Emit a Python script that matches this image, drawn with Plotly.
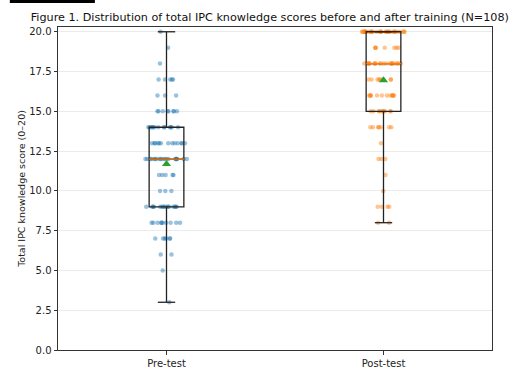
import numpy as np
import plotly.graph_objects as go

# ---- data (integer scores and how many participants got each) ----
groups = ["Pre-test", "Post-test"]
score_levels = [3, 4, 5, 6, 7, 8, 9, 10, 11, 12, 13, 14, 15, 16, 17, 18, 19, 20]
pre_counts = [1, 0, 1, 2, 6, 10, 15, 3, 5, 20, 13, 13, 8, 3, 5, 1, 1, 1]
post_counts = [0, 0, 0, 0, 0, 2, 4, 1, 1, 3, 1, 7, 10, 12, 8, 20, 7, 32]
y_ticks = [0.0, 2.5, 5.0, 7.5, 10.0, 12.5, 15.0, 17.5, 20.0]

pre_scores = np.repeat(score_levels, pre_counts).astype(float)
post_scores = np.repeat(score_levels, post_counts).astype(float)

colors = ["#1f77b4", "#ff7f0e"]
BOX_W = 0.16

fig = go.Figure()

for i, (name, vals) in enumerate(zip(groups, [pre_scores, post_scores])):
    pos = i + 1
    # jittered points
    fig.add_trace(go.Box(
        x=[pos] * len(vals), y=vals, name=name, boxpoints="all", jitter=1.0,
        pointpos=0, width=0.2, line=dict(color="rgba(0,0,0,0)", width=0),
        fillcolor="rgba(0,0,0,0)",
        marker=dict(color=colors[i], size=4.5, opacity=0.45, line=dict(width=0)),
        showlegend=False, hoverinfo="skip"))
    # box
    fig.add_trace(go.Box(
        x=[pos] * len(vals), y=vals, name=name, boxpoints=False,
        quartilemethod="linear", width=BOX_W,
        line=dict(color="#222222", width=1.3), fillcolor="rgba(0,0,0,0)",
        whiskerwidth=0, showlegend=False))
    q1, med, q3 = np.percentile(vals, [25, 50, 75])
    iqr = q3 - q1
    lo = vals[vals >= q1 - 1.5 * iqr].min()
    hi = vals[vals <= q3 + 1.5 * iqr].max()
    # caps
    for w in (lo, hi):
        fig.add_trace(go.Scatter(x=[pos - BOX_W / 4, pos + BOX_W / 4], y=[w, w],
                                 mode="lines", line=dict(color="#222222", width=1.3),
                                 showlegend=False, hoverinfo="skip"))
    # median
    fig.add_trace(go.Scatter(x=[pos - BOX_W / 2, pos + BOX_W / 2], y=[med, med],
                             mode="lines", line=dict(color="#ff7f0e", width=1.3),
                             showlegend=False, hoverinfo="skip"))
    # mean
    fig.add_trace(go.Scatter(x=[pos], y=[vals.mean()], mode="markers",
                             marker=dict(symbol="triangle-up", size=8, color="#2ca02c"),
                             showlegend=False, hoverinfo="skip"))

fig.update_layout(
    width=526, height=369,
    margin=dict(l=58, r=34, t=27, b=19, autoexpand=False),
    paper_bgcolor="white", plot_bgcolor="white",
    font=dict(family="DejaVu Sans", size=10, color="#222222"),
    title=dict(text="Figure 1. Distribution of total IPC knowledge scores before and after training (N=108)",
               x=0.513, xanchor="center", y=0.955, yanchor="middle",
               font=dict(size=11.2, color="#111111")),
    boxmode="overlay",
    xaxis=dict(range=[0.5, 2.5], tickvals=[1, 2], ticktext=groups, automargin=False,
               showgrid=False, zeroline=False, showline=True, mirror=True,
               linecolor="#333333", linewidth=1, ticks="outside", ticklen=3.5,
               tickcolor="#333333", tickfont=dict(size=10)),
    yaxis=dict(range=[0, 20.3], tickvals=y_ticks, ticktext=[f"{v:.1f}" for v in y_ticks],
               automargin=False,
               showgrid=True, gridcolor="rgba(0,0,0,0.08)", gridwidth=1,
               zeroline=False, showline=True, mirror=True,
               linecolor="#333333", linewidth=1, ticks="outside", ticklen=3.5,
               tickcolor="#333333", tickfont=dict(size=10),
               title=dict(text="Total IPC knowledge score (0–20)", font=dict(size=9.5), standoff=1)),
    shapes=[dict(type="rect", xref="paper", yref="paper",
                 x0=-0.111, x1=0.085, y0=1.074, y1=1.085,
                 fillcolor="black", line=dict(width=0), layer="above")],
)

fig.write_html("out.html", config={"displayModeBar": False},
               post_script="document.body.style.margin='0';document.body.style.overflow='hidden';")
